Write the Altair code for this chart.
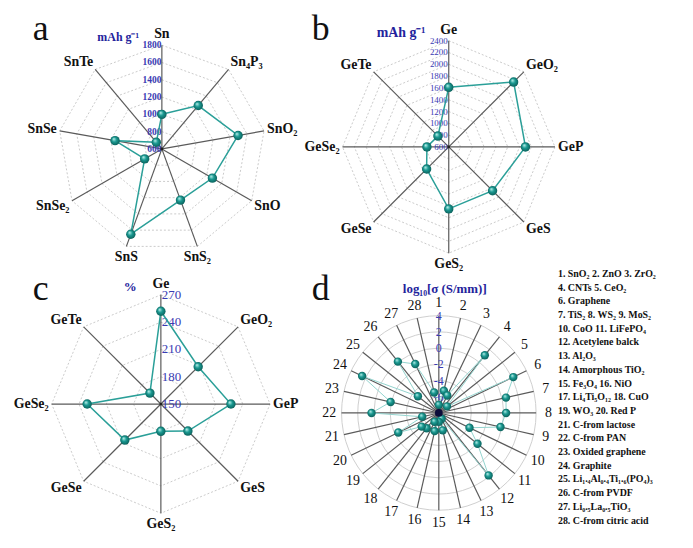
import math
import altair as alt
import pandas as pd

# ---------------- data ----------------
a_categories = ["Sn", "Sn₄P₃", "SnO₂", "SnO", "SnS₂", "SnS", "SnSe₂", "SnSe", "SnTe"]
a_values = [1000, 1255, 1495, 1275, 1230, 1650, 830, 1150, 700]
a_ticks = [600, 800, 1000, 1200, 1400, 1600, 1800]

b_categories = ["Ge", "GeO₂", "GeP", "GeS", "GeS₂", "GeSe", "GeSe₂", "GeTe"]
b_values = [1610, 2155, 1900, 1650, 1650, 1130, 970, 860]
b_ticks = [600, 800, 1000, 1200, 1400, 1600, 1800, 2000, 2200, 2400]

c_categories = ["Ge", "GeO₂", "GeP", "GeS", "GeS₂", "GeSe", "GeSe₂", "GeTe"]
c_values = [252, 208, 227, 192, 180, 206, 231, 167]
c_ticks = [150, 180, 210, 240, 270]

d_categories = [str(i) for i in range(1, 29)]
d_values = [-7.0, -5.2, -5.6, 1.1, -6.7, 2.2, 0.5, 0.3, -0.2, -3.8,
            -1.9, 1.85, -7.2, -5.8, -6.9, -5.7, -6.8, -5.6, -5.3, -2.45,
            -5.9, 0.3, -1.9, 2.5, -4.7, 0.1, -1.3, -5.4]
d_ticks = [-8, -6, -4, -2, 0, 2, 4]
d_tick_labels = ["", "-6", "-4", "-2", "0", "2", "4"]

legend_lines = [
    "1. SnO₂ 2. ZnO 3. ZrO₂",
    "4. CNTs 5. CeO₂",
    "6. Graphene",
    "7. TiS₂ 8. WS₂ 9. MoS₂",
    "10. CoO 11. LiFePO₄",
    "12. Acetylene balck",
    "13. Al₂O₃",
    "14. Amorphous TiO₂",
    "15. Fe₃O₄  16. NiO",
    "17. Li₄Ti₅O₁₂ 18. CuO",
    "19. WO₃ 20. Red P",
    "21. C-from lactose",
    "22. C-from PAN",
    "23. Oxided graphene",
    "24. Graphite",
    "25. Li₁.₄Al₀.₄Ti₁.₆(PO₄)₃",
    "26. C-from PVDF",
    "27. Li₀.₅La₀.₅TiO₃",
    "28. C-from citric acid",
]

panel_titles = {"a": "mAh g⁻¹", "b": "mAh g⁻¹", "c": "%", "d": "log₁₀[σ (S/mm)]"}

# ---------------- layout ----------------
W, H = 682, 530
LAYOUT = {
    "a": dict(cx=163, cy=148, R=104.5),
    "b": dict(cx=452, cy=146, R=107),
    "c": dict(cx=162, cy=405, R=110),
    "d": dict(cx=442, cy=414, R=98),
}
SERIF = "Liberation Serif"
TEAL_LINE = "#2a9f98"
BLUE_T = "#23239c"
BLUE_K = "#3a3ab2"

xs = alt.Scale(domain=[8, 8 + W], nice=False, zero=False)
ys = alt.Scale(domain=[8, 8 + H], nice=False, zero=False, reverse=True)
X = lambda f="x": alt.X(f"{f}:Q", scale=xs, axis=None)
Y = lambda f="y": alt.Y(f"{f}:Q", scale=ys, axis=None)

grad = alt.RadialGradient(
    gradient="radial",
    stops=[alt.GradientStop(color="#c8f7f2", offset=0.0),
           alt.GradientStop(color="#1a9a92", offset=0.45),
           alt.GradientStop(color="#0a5a55", offset=1.0)],
    x1=0.35, y1=0.3, r1=0.0, x2=0.5, y2=0.5, r2=0.55,
)


def pos(p, k, n, frac):
    L = LAYOUT[p]
    th = 2 * math.pi * k / n
    return L["cx"] + L["R"] * frac * math.sin(th), L["cy"] - L["R"] * frac * math.cos(th)


layers = []


def radar(p, cats, vals, ticks, tick_labels, polygon=True):
    n = len(cats)
    vmin, vmax = ticks[0], ticks[-1]
    L = LAYOUT[p]
    fr = lambda v: (v - vmin) / (vmax - vmin)
    # grid
    if polygon:
        rows = []
        for t in ticks[1:]:
            for k in range(n + 1):
                x, y = pos(p, k % n, n, fr(t))
                rows.append(dict(ring=str(t), k=k, x=x, y=y))
        layers.append(alt.Chart(pd.DataFrame(rows)).mark_line(
            color="#bdbdbd", strokeWidth=0.8, strokeDash=[2, 2]).encode(
            x=X(), y=Y(), detail="ring:N", order="k:Q"))
    else:
        rows = [dict(x=L["cx"], y=L["cy"], s=(2 * L["R"] * fr(t)) ** 2) for t in ticks[1:]]
        layers.append(alt.Chart(pd.DataFrame(rows)).mark_point(
            shape="circle", filled=False, color="#cfcfcf", strokeWidth=1, opacity=1).encode(
            x=X(), y=Y(), size=alt.Size("s:Q", scale=None, legend=None)))
    # spokes
    rows = []
    for k in range(n):
        x2, y2 = pos(p, k, n, 1.0)
        rows.append(dict(x=L["cx"], y=L["cy"], x2=x2, y2=y2))
    layers.append(alt.Chart(pd.DataFrame(rows)).mark_rule(
        color="#5a5a5a", strokeWidth=1.2).encode(
        x=X(), y=Y(), x2="x2:Q", y2="y2:Q"))
    # tick labels
    rows = []
    for t, lab in zip(ticks, tick_labels):
        rows.append(dict(x=L["cx"], y=L["cy"] - L["R"] * fr(t), t=lab))
    tdf = pd.DataFrame(rows)
    if p == "a":
        tk = alt.Chart(tdf).mark_text(font=SERIF, fontSize=9.5, fontWeight="bold",
                                      color=BLUE_K, align="right", baseline="middle", dx=-0.5)
    elif p == "b":
        tk = alt.Chart(tdf).mark_text(font=SERIF, fontSize=9, color=BLUE_K,
                                      align="right", baseline="middle", dx=-1)
    elif p == "c":
        tk = alt.Chart(tdf).mark_text(font=SERIF, fontSize=13, color=BLUE_K,
                                      align="left", baseline="middle", dx=1)
    else:
        tk = alt.Chart(tdf).mark_text(font=SERIF, fontSize=12, color=BLUE_K,
                                      align="center", baseline="middle")
    layers.append(tk.encode(x=X(), y=Y(), text="t:N"))
    # data line
    rows = []
    for k in range(n + 1):
        x, y = pos(p, k % n, n, fr(vals[k % n]))
        rows.append(dict(k=k, x=x, y=y))
    ldf = pd.DataFrame(rows)
    if polygon:
        layers.append(alt.Chart(ldf).mark_line(color=TEAL_LINE, strokeWidth=1.5).encode(
            x=X(), y=Y(), order="k:Q"))
    else:
        layers.append(alt.Chart(ldf).mark_line(color="#93d4cf", strokeWidth=1).encode(
            x=X(), y=Y(), order="k:Q"))
    # points
    layers.append(alt.Chart(ldf[ldf.k < n]).mark_point(
        shape="circle", filled=True, fill=grad, opacity=1, strokeWidth=0,
        size=90 if polygon else 72).encode(x=X(), y=Y()))
    # center dot
    layers.append(alt.Chart(pd.DataFrame([dict(x=L["cx"], y=L["cy"])])).mark_point(
        shape="circle", filled=True, color="#0c0c3a" if p == "d" else "#222222", opacity=1,
        size=60 if p == "d" else 8).encode(x=X(), y=Y()))
    # category labels
    rows = []
    for k, cname in enumerate(cats):
        th = 2 * math.pi * k / n
        s, c = math.sin(th), math.cos(th)
        ex, ey = pos(p, k, n, 1.0)
        if not polygon:
            rows.append(dict(x=L["cx"] + (L["R"] + 12.5) * s, y=L["cy"] - (L["R"] + 12.5) * c,
                             t=cname, al="center"))
        elif abs(s) < 0.4:
            rows.append(dict(x=ex, y=ey - 11 * c, t=cname, al="center"))
        else:
            rows.append(dict(x=ex + 3 * s, y=ey - 10 * c, t=cname,
                             al="left" if s > 0 else "right"))
    cdf = pd.DataFrame(rows)
    for al in ["left", "center", "right"]:
        sub = cdf[cdf.al == al]
        if len(sub) == 0:
            continue
        if polygon:
            m = alt.Chart(sub).mark_text(font=SERIF, fontSize=14, fontWeight="bold",
                                         color="#111111", align=al, baseline="middle")
        else:
            m = alt.Chart(sub).mark_text(font=SERIF, fontSize=14, color="#111111",
                                         align=al, baseline="middle")
        layers.append(m.encode(x=X(), y=Y(), text="t:N"))


radar("a", a_categories, a_values, a_ticks, [str(t) for t in a_ticks])
radar("b", b_categories, b_values, b_ticks, [str(t) for t in b_ticks])
radar("c", c_categories, c_values, c_ticks, [str(t) for t in c_ticks])
radar("d", d_categories, d_values, d_ticks, d_tick_labels, polygon=False)

# unit titles
title_pos = {"a": (119, 35, 12), "b": (404, 31, 14), "c": (131, 287, 13), "d": (448, 289, 13)}
for p, (x, y, fs) in title_pos.items():
    layers.append(alt.Chart(pd.DataFrame([dict(x=x, y=y, t=panel_titles[p])])).mark_text(
        font=SERIF, fontSize=fs, fontWeight="bold", color=BLUE_T,
        align="center", baseline="middle").encode(x=X(), y=Y(), text="t:N"))

# panel letters
letters = pd.DataFrame([dict(x=41, y=38, t="a"), dict(x=323, y=38, t="b"),
                        dict(x=41, y=300, t="c"), dict(x=323, y=300, t="d")])
layers.append(alt.Chart(letters).mark_text(
    font=SERIF, fontSize=36, color="#111111", align="center", baseline="alphabetic").encode(
    x=X(), y=Y(), text="t:N"))

# legend list for panel d
leg = pd.DataFrame([dict(x=562, y=274 + 13.8 * i, t=s) for i, s in enumerate(legend_lines)])
layers.append(alt.Chart(leg).mark_text(
    font=SERIF, fontSize=10, fontWeight="bold", color="#111111",
    align="left", baseline="middle").encode(x=X(), y=Y(), text="t:N"))

chart = alt.layer(*layers).properties(
    width=W, height=H, padding=0, autosize=alt.AutoSizeParams(type="none"),
    background="white",
).configure_view(stroke=None)

chart.save("out.html", embed_options={"renderer": "svg", "actions": False})
